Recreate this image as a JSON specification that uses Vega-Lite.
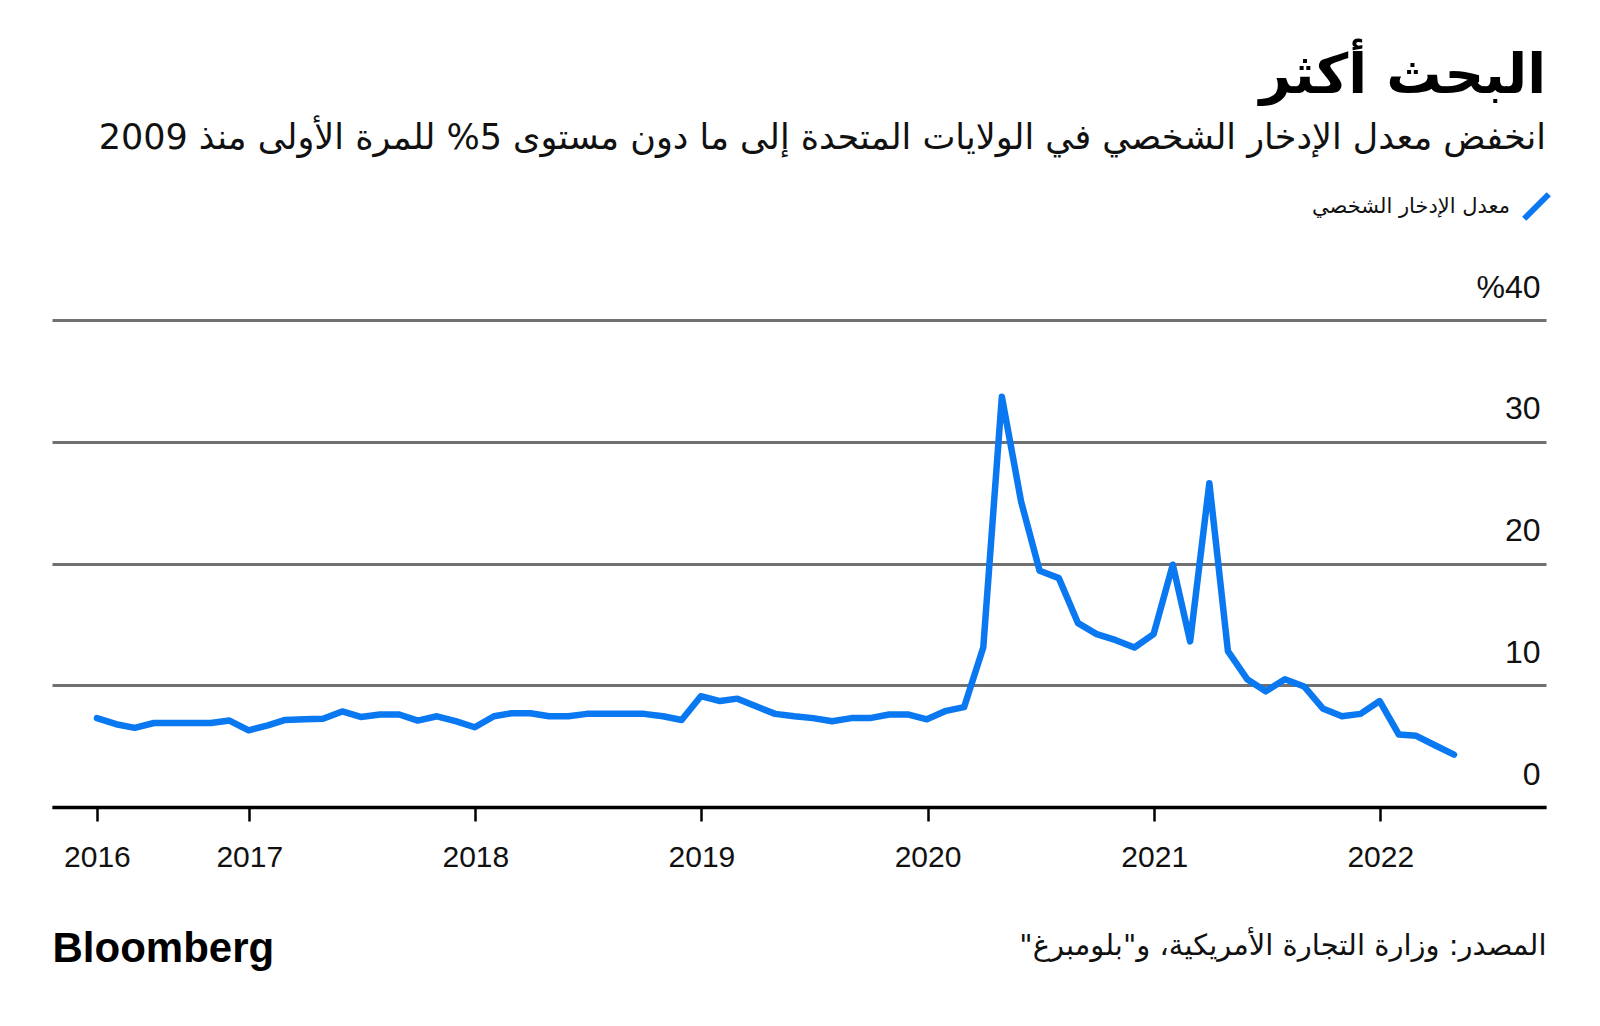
{
  "$schema": "https://vega.github.io/schema/vega-lite/v6.json",
  "width": 1494,
  "height": 487,
  "autosize": "none",
  "padding": {"left": 52, "top": 320, "right": 54, "bottom": 219},
  "background": "white",
  "config": {"view": {"stroke": null}},
  "title": {
    "text": "\u202bالبحث أكثر\u202c",
    "subtitle": "\u202bانخفض معدل الإدخار الشخصي في الولايات المتحدة إلى ما دون مستوى 5% للمرة الأولى منذ 2009\u202c",
    "anchor": "end",
    "frame": "group",
    "align": "right",
    "orient": "top",
    "font": "DejaVu Sans",
    "fontSize": 55,
    "fontWeight": "bold",
    "color": "#000000",
    "subtitleFont": "DejaVu Sans",
    "subtitleFontSize": 35,
    "subtitleColor": "#111111",
    "subtitlePadding": 16,
    "offset": 34
  },
  "data": {
    "values": [
      {"date": "2016-04-30", "rate": 7.3},
      {"date": "2016-05-31", "rate": 6.8},
      {"date": "2016-06-30", "rate": 6.5},
      {"date": "2016-07-31", "rate": 6.9},
      {"date": "2016-08-31", "rate": 6.9},
      {"date": "2016-09-30", "rate": 6.9},
      {"date": "2016-10-31", "rate": 6.9},
      {"date": "2016-11-30", "rate": 7.1},
      {"date": "2016-12-31", "rate": 6.3},
      {"date": "2017-01-31", "rate": 6.7},
      {"date": "2017-02-28", "rate": 7.15},
      {"date": "2017-03-31", "rate": 7.2},
      {"date": "2017-04-30", "rate": 7.25},
      {"date": "2017-05-31", "rate": 7.85},
      {"date": "2017-06-30", "rate": 7.4},
      {"date": "2017-07-31", "rate": 7.6},
      {"date": "2017-08-31", "rate": 7.6},
      {"date": "2017-09-30", "rate": 7.1},
      {"date": "2017-10-31", "rate": 7.45},
      {"date": "2017-11-30", "rate": 7.05},
      {"date": "2017-12-31", "rate": 6.55},
      {"date": "2018-01-31", "rate": 7.45},
      {"date": "2018-02-28", "rate": 7.7},
      {"date": "2018-03-31", "rate": 7.7},
      {"date": "2018-04-30", "rate": 7.45},
      {"date": "2018-05-31", "rate": 7.45},
      {"date": "2018-06-30", "rate": 7.65},
      {"date": "2018-07-31", "rate": 7.65},
      {"date": "2018-08-31", "rate": 7.65},
      {"date": "2018-09-30", "rate": 7.65},
      {"date": "2018-10-31", "rate": 7.45},
      {"date": "2018-11-30", "rate": 7.15},
      {"date": "2018-12-31", "rate": 9.1},
      {"date": "2019-01-31", "rate": 8.7},
      {"date": "2019-02-28", "rate": 8.9},
      {"date": "2019-03-31", "rate": 8.25},
      {"date": "2019-04-30", "rate": 7.65},
      {"date": "2019-05-31", "rate": 7.45},
      {"date": "2019-06-30", "rate": 7.3},
      {"date": "2019-07-31", "rate": 7.05},
      {"date": "2019-08-31", "rate": 7.3},
      {"date": "2019-09-30", "rate": 7.3},
      {"date": "2019-10-31", "rate": 7.6},
      {"date": "2019-11-30", "rate": 7.6},
      {"date": "2019-12-31", "rate": 7.2},
      {"date": "2020-01-31", "rate": 7.9},
      {"date": "2020-02-29", "rate": 8.2},
      {"date": "2020-03-31", "rate": 13.1},
      {"date": "2020-04-30", "rate": 33.7},
      {"date": "2020-05-31", "rate": 25.1},
      {"date": "2020-06-30", "rate": 19.4},
      {"date": "2020-07-31", "rate": 18.8},
      {"date": "2020-08-31", "rate": 15.1},
      {"date": "2020-09-30", "rate": 14.2},
      {"date": "2020-10-31", "rate": 13.7},
      {"date": "2020-11-30", "rate": 13.1},
      {"date": "2020-12-31", "rate": 14.2},
      {"date": "2021-01-31", "rate": 19.9},
      {"date": "2021-02-28", "rate": 13.6},
      {"date": "2021-03-31", "rate": 26.6},
      {"date": "2021-04-30", "rate": 12.8},
      {"date": "2021-05-31", "rate": 10.5},
      {"date": "2021-06-30", "rate": 9.5},
      {"date": "2021-07-31", "rate": 10.5},
      {"date": "2021-08-31", "rate": 9.9},
      {"date": "2021-09-30", "rate": 8.1},
      {"date": "2021-10-31", "rate": 7.45},
      {"date": "2021-11-30", "rate": 7.65},
      {"date": "2021-12-31", "rate": 8.7},
      {"date": "2022-01-31", "rate": 5.95},
      {"date": "2022-02-28", "rate": 5.85},
      {"date": "2022-03-31", "rate": 5.05},
      {"date": "2022-04-30", "rate": 4.3}
    ]
  },
  "mark": {"type": "line", "strokeWidth": 6.5, "strokeJoin": "round", "strokeCap": "round"},
  "encoding": {
    "x": {
      "field": "date",
      "type": "temporal",
      "scale": {
        "type": "utc",
        "domain": [
          {"year": 2016, "month": 2, "date": 17, "hours": 12, "utc": true},
          {"year": 2022, "month": 9, "date": 25, "hours": 12, "utc": true}
        ]
      },
      "axis": {
        "title": "\u202bالمصدر: وزارة التجارة الأمريكية، و\"بلومبرغ\"\u202c",
        "titleFont": "DejaVu Sans",
        "titleFontSize": 29,
        "titleFontWeight": "normal",
        "titleColor": "#111111",
        "titleAnchor": "end",
        "titleAlign": "right",
        "titleX": 1494,
        "titleY": 147,
        "titleBaseline": "alphabetic",
        "values": [
          {"year": 2016, "month": 4, "date": 30, "utc": true},
          {"year": 2017, "month": 1, "date": 1, "utc": true},
          {"year": 2018, "month": 1, "date": 1, "utc": true},
          {"year": 2019, "month": 1, "date": 1, "utc": true},
          {"year": 2020, "month": 1, "date": 1, "utc": true},
          {"year": 2021, "month": 1, "date": 1, "utc": true},
          {"year": 2022, "month": 1, "date": 1, "utc": true}
        ],
        "labelExpr": "utcFormat(datum.value, '%Y')",
        "labelFont": "Liberation Sans",
        "labelFontSize": 30,
        "labelColor": "#111111",
        "labelPadding": 21,
        "labelFlush": false,
        "labelOverlap": false,
        "grid": false,
        "domainColor": "#000000",
        "domainWidth": 3.5,
        "tickColor": "#000000",
        "tickWidth": 2.5,
        "tickSize": 14,
        "zindex": 1
      }
    },
    "y": {
      "field": "rate",
      "type": "quantitative",
      "scale": {"domain": [0, 40]},
      "axis": {
        "orient": "right",
        "values": [0, 10, 20, 30, 40],
        "grid": true,
        "gridColor": "#707070",
        "gridWidth": 3,
        "domain": false,
        "ticks": false,
        "tickSize": 0,
        "labelAlign": "right",
        "labelPadding": -6,
        "labelBaseline": "alphabetic",
        "labelOffset": -23,
        "labelExpr": "datum.value == 40 ? '%40' : datum.label",
        "labelFont": "Liberation Sans",
        "labelFontSize": 32,
        "labelColor": "#111111",
        "labelFlush": false,
        "labelOverlap": false,
        "labelBound": false,
        "title": "Bloomberg",
        "titleFont": "Liberation Sans",
        "titleFontSize": 42,
        "titleFontWeight": "bold",
        "titleColor": "#000000",
        "titleAngle": 0,
        "titleAlign": "left",
        "titleBaseline": "alphabetic",
        "titleX": -1494,
        "titleY": 641
      }
    },
    "color": {
      "datum": "معدل الإدخار الشخصي",
      "scale": {"range": ["#0a78f0"]},
      "legend": {
        "orient": "none",
        "legendX": 1469,
        "legendY": -129,
        "title": null,
        "padding": 0,
        "symbolType": "M-1,1L1,-1",
        "symbolSize": 600,
        "symbolStrokeWidth": 6,
        "symbolFillColor": "transparent",
        "labelAlign": "right",
        "labelOffset": -42,
        "labelFont": "DejaVu Sans",
        "labelFontSize": 21,
        "labelColor": "#111111",
        "labelLimit": 500
      }
    }
  }
}
